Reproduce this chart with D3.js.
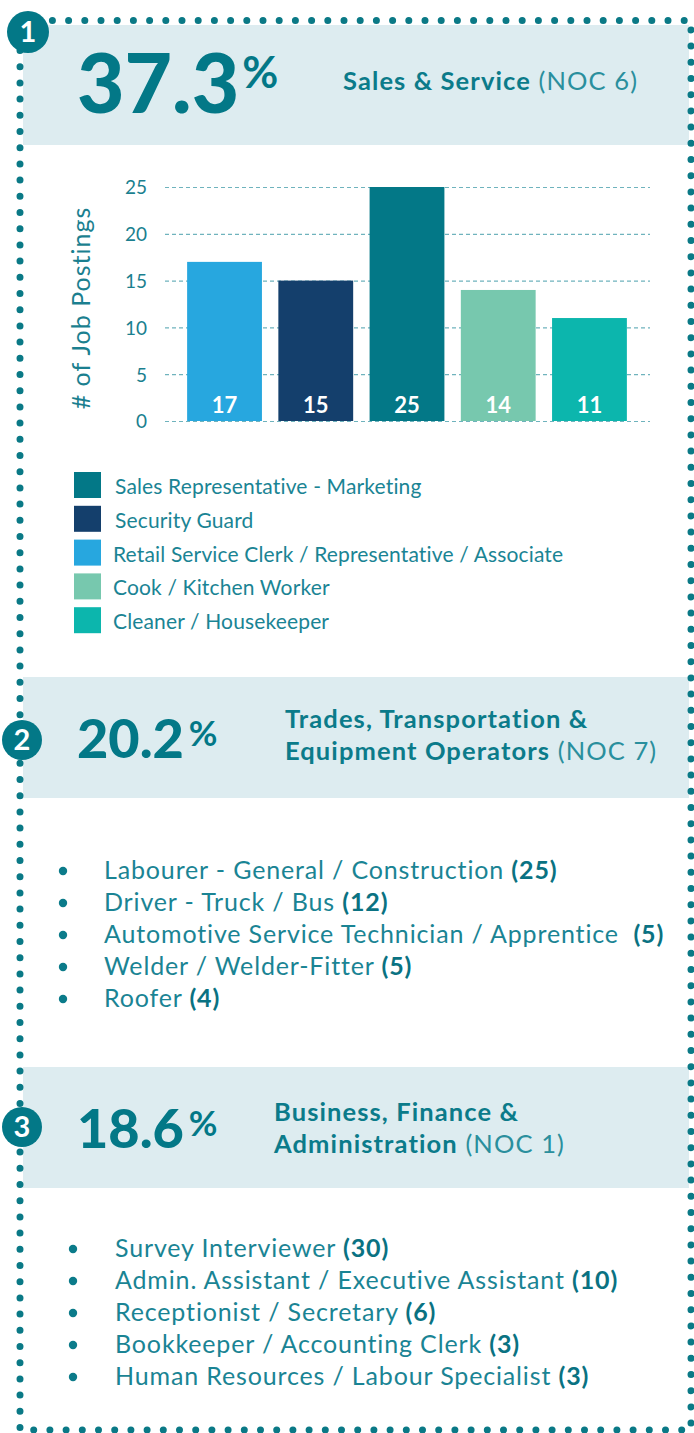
<!DOCTYPE html>
<html>
<head>
<meta charset="utf-8">
<script src="https://cdn.jsdelivr.net/npm/d3@7"></script>
<style>
  html, body { margin: 0; padding: 0; background: #fff; }
  svg { display: block; font-family: Lato, "Open Sans", sans-serif; }
</style>
</head>
<body>
<div id="chart"></div>
<script>
'use strict';
// ---- data ----
const percents = ["37.3", "20.2", "18.6"];
const sectionBold = [["Sales & Service"], ["Trades, Transportation &", "Equipment Operators"], ["Business, Finance &", "Administration"]];
const sectionNoc = ["(NOC 6)", "(NOC 7)", "(NOC 1)"];

const barNames = ["Retail Service Clerk / Representative / Associate", "Security Guard",
  "Sales Representative - Marketing", "Cook / Kitchen Worker", "Cleaner / Housekeeper"];
const barValues = [17, 15, 25, 14, 11];
const barColors = ["#27a7df", "#143f6c", "#037887", "#77c8ae", "#0cb6ad"];
const legendNames = ["Sales Representative - Marketing", "Security Guard",
  "Retail Service Clerk / Representative / Associate", "Cook / Kitchen Worker", "Cleaner / Housekeeper"];
const yTicks = [0, 5, 10, 15, 20, 25];

const tradesJobs = ["Labourer - General / Construction", "Driver - Truck / Bus",
  "Automotive Service Technician / Apprentice ", "Welder / Welder-Fitter", "Roofer"];
const tradesCounts = [25, 12, 5, 5, 4];
const businessJobs = ["Survey Interviewer", "Admin. Assistant / Executive Assistant",
  "Receptionist / Secretary", "Bookkeeper / Accounting Clerk", "Human Resources / Labour Specialist"];
const businessCounts = [30, 10, 6, 3, 3];

const W = 694, H = 1433;
const teal = "#037887", band = "#ddecf0", textTeal = "#1a8494";

const svg = d3.select("#chart").append("svg")
  .attr("width", W).attr("height", H);

// header bands
const bands = [[25, 145], [677, 798], [1067, 1188]];
svg.selectAll("rect.band").data(bands).join("rect")
  .attr("class", "band")
  .attr("x", 23).attr("y", d => d[0])
  .attr("width", 666).attr("height", d => d[1] - d[0])
  .attr("fill", band);

// dotted frame
svg.append("path")
  .attr("d", "M20,20.5 H691 V1430 H20 Z")
  .attr("fill", "none")
  .attr("stroke", "#0a7986")
  .attr("stroke-width", 7)
  .attr("stroke-linecap", "round")
  .attr("stroke-dasharray", "0 16.2");

// ---- header texts ----
const headers = [
  { big: 82, pct: 44, gap: 3, x: 77, base: 113, pctBase: 88, tx: 343, ty: [90] },
  { big: 54, pct: 35, gap: 5, x: 77, base: 758, pctBase: 746, tx: 285, ty: [728, 760] },
  { big: 54, pct: 35, gap: 5, x: 77, base: 1148, pctBase: 1136, tx: 274, ty: [1121, 1153] }
];
headers.forEach(function (h, i) {
  const t = svg.append("text")
    .attr("x", h.x).attr("y", h.base)
    .attr("fill", teal).attr("font-weight", 900)
    .attr("font-size", h.big)
    .text(percents[i]);
  const w = t.node().getComputedTextLength();
  svg.append("text")
    .attr("x", h.x + w + h.gap).attr("y", h.pctBase)
    .attr("fill", teal).attr("font-weight", 700)
    .attr("font-size", h.pct)
    .text("%");
  sectionBold[i].forEach(function (line, j) {
    const lt = svg.append("text")
      .attr("x", h.tx).attr("y", h.ty[j])
      .attr("font-size", 25.5).attr("letter-spacing", 1.1).attr("fill", "#0b7b8a");
    lt.append("tspan").attr("font-weight", 700).text(line);
    if (j === sectionBold[i].length - 1)
      lt.append("tspan").attr("font-weight", 400).attr("fill", "#2a8f9d").text(" " + sectionNoc[i]);
  });
});

// badges
const badges = [[28, 32, 21], [22, 740, 20], [22, 1127, 20]];
badges.forEach(function (b, i) {
  svg.append("circle").attr("cx", b[0]).attr("cy", b[1]).attr("r", b[2]).attr("fill", teal);
  svg.append("text").attr("x", b[0]).attr("y", b[1] + 10)
    .attr("text-anchor", "middle").attr("fill", "#fff")
    .attr("font-weight", 700).attr("font-size", 29)
    .text(i + 1);
});

// ---- bar chart ----
const x = d3.scaleBand().domain(barNames).range([178, 636]).paddingInner(0.18).paddingOuter(0.1);
const y = d3.scaleLinear().domain([0, 25]).range([421, 187]);

const grid = svg.append("g")
  .attr("transform", "translate(165,0)")
  .call(d3.axisLeft(y).tickValues(yTicks).tickSize(-485).tickPadding(18));
grid.select(".domain").remove();
grid.selectAll(".tick line")
  .attr("stroke", "#6fb3bd").attr("stroke-width", 1.2).attr("stroke-dasharray", "4 3");
grid.selectAll(".tick text")
  .attr("fill", "#1b7f8f").attr("font-size", 19).attr("font-family", "Lato, sans-serif")
  .attr("font-weight", 400).attr("dy", "0.36em");

svg.append("text")
  .attr("transform", "translate(90,308) rotate(-90)")
  .attr("text-anchor", "middle").attr("fill", "#1b7f8f")
  .attr("font-size", 25).attr("font-weight", 400).attr("letter-spacing", 1)
  .text("# of Job Postings");

svg.selectAll("rect.bar").data(barValues).join("rect")
  .attr("class", "bar")
  .attr("x", (d, i) => x(barNames[i]))
  .attr("y", d => y(d))
  .attr("width", x.bandwidth())
  .attr("height", d => y(0) - y(d))
  .attr("fill", (d, i) => barColors[i]);

svg.selectAll("text.val").data(barValues).join("text")
  .attr("class", "val")
  .attr("x", (d, i) => x(barNames[i]) + x.bandwidth() / 2)
  .attr("y", 413)
  .attr("text-anchor", "middle").attr("fill", "#fff")
  .attr("font-weight", 700).attr("font-size", 22)
  .text(d => d);

// legend
const legend = svg.append("g");
legendNames.forEach(function (name, i) {
  const c = barColors[barNames.indexOf(name)];
  const yy = 472 + i * 33.8;
  legend.append("rect").attr("x", 74).attr("y", yy).attr("width", 27).attr("height", 26).attr("fill", c);
  legend.append("text").attr("x", i < 2 ? 115 : 113).attr("y", yy + 22)
    .attr("fill", textTeal).attr("font-size", 21).attr("font-weight", 400)
    .attr("letter-spacing", 0.15)
    .text(name);
});

// ---- lists ----
function drawList(jobs, counts, bx, tx, y0) {
  jobs.forEach(function (job, i) {
    const yy = y0 + i * 32;
    svg.append("circle").attr("cx", bx).attr("cy", yy - 8).attr("r", 4.2).attr("fill", "#0b7b8a");
    const t = svg.append("text").attr("x", tx).attr("y", yy)
      .attr("font-size", 25).attr("fill", textTeal).attr("xml:space", "preserve")
      .attr("letter-spacing", 0.85);
    t.append("tspan").attr("font-weight", 400).text(job + " ");
    t.append("tspan").attr("font-weight", 700).attr("fill", "#0a7282").text("(" + counts[i] + ")");
  });
}
drawList(tradesJobs, tradesCounts, 63, 104, 879);
drawList(businessJobs, businessCounts, 73, 115, 1257);
</script>
</body>
</html>
